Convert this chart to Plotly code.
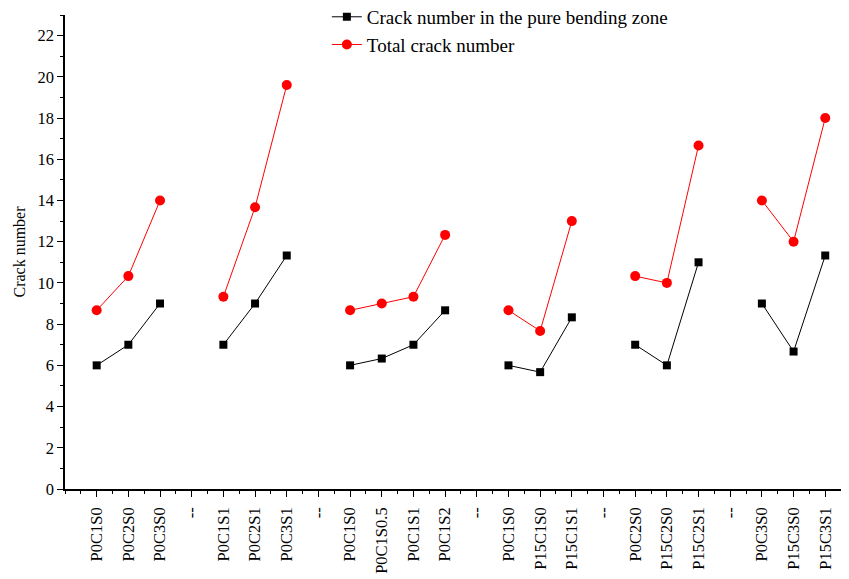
import plotly.graph_objects as go

tick_labels = ["P0C1S0", "P0C2S0", "P0C3S0", "--",
               "P0C1S1", "P0C2S1", "P0C3S1", "--",
               "P0C1S0", "P0C1S0.5", "P0C1S1", "P0C1S2", "--",
               "P0C1S0", "P15C1S0", "P15C1S1", "--",
               "P0C2S0", "P15C2S0", "P15C2S1", "--",
               "P0C3S0", "P15C3S0", "P15C3S1"]

pure_bending = [6, 7, 9, None,
                7, 9, 11.33, None,
                6, 6.33, 7, 8.67, None,
                6, 5.67, 8.33, None,
                7, 6, 11, None,
                9, 6.67, 11.33]

total = [8.67, 10.33, 14, None,
         9.33, 13.67, 19.6, None,
         8.67, 9, 9.33, 12.33, None,
         8.67, 7.67, 13, None,
         10.33, 10, 16.67, None,
         14, 12, 18]

x = list(range(len(tick_labels)))
font = "'Liberation Serif', 'Times New Roman', serif"

fig = go.Figure()
fig.add_trace(go.Scatter(
    x=x, y=pure_bending, mode="lines+markers", connectgaps=False,
    name="Crack number in the pure bending zone",
    line=dict(color="black", width=1),
    marker=dict(symbol="square", size=8, color="black"),
))
fig.add_trace(go.Scatter(
    x=x, y=total, mode="lines+markers", connectgaps=False,
    name="Total crack number",
    line=dict(color="red", width=1),
    marker=dict(symbol="circle", size=10, color="red"),
))

# page body has an 8px default margin: figure is sized/offset to compensate
fig.update_layout(
    width=841, height=571,
    margin=dict(l=57, r=0, t=7, b=90, autoexpand=False),
    paper_bgcolor="white", plot_bgcolor="white",
    font=dict(family=font, size=16, color="black"),
    showlegend=True,
    legend=dict(x=0.334, y=1.036, xanchor="left", yanchor="top",
                bgcolor="rgba(0,0,0,0)", font=dict(size=19, family=font),
                tracegroupgap=0),
    xaxis=dict(
        range=[-1, 23.75], tickmode="array", tickvals=x, ticktext=tick_labels,
        tickangle=-90, showgrid=False, zeroline=False, automargin=False,
        showline=True, linecolor="black", linewidth=1.5,
        ticks="outside", ticklen=6, tickwidth=1, tickcolor="black",
        ticklabelstandoff=4,
        minor=dict(dtick=0.5, tick0=-0.5, ticks="outside", ticklen=3, tickcolor="black", tickwidth=1, showgrid=False),
        tickfont=dict(size=16.5, family=font),
    ),
    yaxis=dict(
        range=[0, 23], dtick=2, tick0=0, showgrid=False, zeroline=False, automargin=False,
        showline=True, linecolor="black", linewidth=1.5,
        ticks="outside", ticklen=6, tickwidth=1, tickcolor="black",
        minor=dict(dtick=1, ticks="outside", ticklen=3, tickcolor="black", tickwidth=1, showgrid=False),
        title=dict(text="Crack number", font=dict(size=16, family=font), standoff=8),
        tickfont=dict(size=16.5, family=font),
    ),
)

fig.write_html("out.html")
